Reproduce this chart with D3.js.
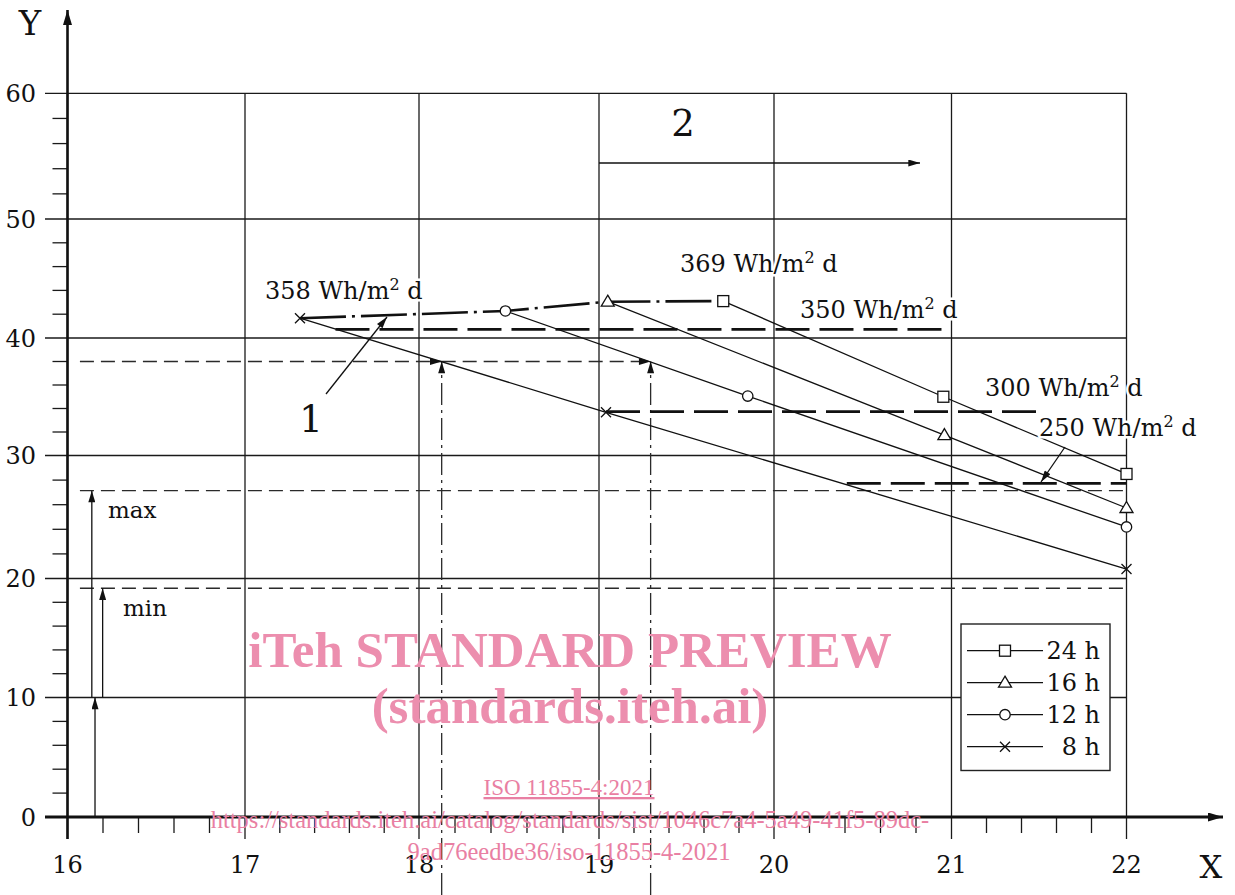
<!DOCTYPE html>
<html>
<head>
<meta charset="utf-8">
<script src="https://cdn.jsdelivr.net/npm/d3@7"></script>
<style>
  body { margin: 0; background: #fff; }
  text { font-family: "DejaVu Serif", serif; fill: #111; }
</style>
</head>
<body>
<div id="chart"></div>
<script>
// ---- data ----
var xTicks = [16, 17, 18, 19, 20, 21, 22];
var yTicks = [0, 10, 20, 30, 40, 50, 60];

var seriesNames = ["24 h", "16 h", "12 h", "8 h"];
var seriesShapes = ["square", "triangle", "circle", "cross"];
var s24x = [19.71, 20.954, 22.0], s24y = [43.10, 35.00, 28.50];
var s16x = [19.05, 20.96, 22.0],  s16y = [43.05, 31.74, 25.73];
var s12x = [18.48, 19.85, 22.0],  s12y = [42.27, 35.06, 24.19];
var s8x  = [17.316, 19.04, 22.0], s8y  = [41.66, 33.68, 20.77];

// constant energy levels (thick dashed)
var levelNames = ["350", "300", "250"];
var levelY  = [40.73, 33.73, 27.74];
var levelX0 = [17.52, 19.04, 20.41];
var levelX1 = [21.0, 21.5, 22.0];

// reference / limit lines
var refY = 38.0;
var refX = [18.126, 19.295];
var maxY = 27.14, minY = 19.18;
var limitX0 = 16.07;
var arrowX = [16.155, 16.137, 16.198]; // base arrow, max arrow, min arrow

// ---- canvas ----
var W = 1235, H = 895;
var svg = d3.select("#chart").append("svg").attr("width", W).attr("height", H);

// the original grid is slightly uneven, so the scales follow the drawn gridlines
var x = d3.scaleLinear().domain(xTicks).range([67.5, 245, 419, 599, 774, 951.5, 1126.5]);
var y = d3.scaleLinear().domain(yTicks).range([817, 697.5, 578.5, 455.5, 338, 219, 93.3]);

var defs = svg.append("defs");
function arrowMarker(id, len, wid) {
  defs.append("marker")
    .attr("id", id)
    .attr("viewBox", "0 0 10 6")
    .attr("refX", 10).attr("refY", 3)
    .attr("markerUnits", "userSpaceOnUse")
    .attr("markerWidth", len).attr("markerHeight", wid)
    .attr("orient", "auto")
    .append("path").attr("d", "M0,0L10,3L0,6Z").attr("fill", "#111");
}
arrowMarker("ah", 15, 7);
arrowMarker("axh", 19, 9);

// ---- grid ----
var grid = svg.append("g").attr("stroke", "#1a1a1a").attr("stroke-width", 1.3);
yTicks.forEach(function (v) {
  grid.append("line").attr("x1", 45).attr("x2", x(22)).attr("y1", y(v)).attr("y2", y(v));
});
xTicks.forEach(function (v) {
  grid.append("line").attr("x1", x(v)).attr("x2", x(v)).attr("y1", y(60)).attr("y2", 839);
});
// minor ticks
d3.range(16, 22, 0.2).forEach(function (v) {
  if (Math.abs(v - Math.round(v)) < 1e-6) return;
  grid.append("line").attr("x1", x(v)).attr("x2", x(v)).attr("y1", y(0)).attr("y2", 833);
});
d3.range(0, 60, 2).forEach(function (v) {
  if (v % 10 === 0) return;
  grid.append("line").attr("x1", 52.5).attr("x2", x(16)).attr("y1", y(v)).attr("y2", y(v));
});

// ---- axes ----
svg.append("line").attr("x1", x(16)).attr("x2", x(16)).attr("y1", 839).attr("y2", 10)
  .attr("stroke", "#111").attr("stroke-width", 2.6).attr("marker-end", "url(#axh)");
svg.append("line").attr("x1", 45).attr("x2", 1223).attr("y1", y(0)).attr("y2", y(0))
  .attr("stroke", "#111").attr("stroke-width", 2.8).attr("marker-end", "url(#axh)");

svg.append("g").selectAll("text").data(xTicks).enter().append("text")
  .attr("x", function (d) { return x(d); }).attr("y", 873)
  .attr("text-anchor", "middle").attr("font-size", 24).text(function (d) { return d; });
svg.append("g").selectAll("text").data(yTicks).enter().append("text")
  .attr("x", 36).attr("y", function (d) { return y(d); }).attr("dy", "0.36em")
  .attr("text-anchor", "end").attr("font-size", 24).text(function (d) { return d; });

svg.append("text").attr("x", 30).attr("y", 35).attr("text-anchor", "middle")
  .attr("font-size", 34).text("Y");
svg.append("text").attr("x", 1211).attr("y", 878).attr("text-anchor", "middle")
  .attr("font-size", 32).text("X");

// ---- thin dashed limit lines ----
var thin = svg.append("g").attr("stroke", "#2a2a2a").attr("stroke-width", 1.3).attr("fill", "none");
[maxY, minY].forEach(function (v) {
  thin.append("line").attr("x1", x(limitX0)).attr("x2", x(22)).attr("y1", y(v)).attr("y2", y(v))
    .attr("stroke-dasharray", "14,7");
});
thin.append("line").attr("x1", x(limitX0)).attr("x2", x(refX[0])).attr("y1", y(refY)).attr("y2", y(refY))
  .attr("stroke-dasharray", "14,7").attr("marker-end", "url(#ah)");
thin.append("line").attr("x1", x(refX[0])).attr("x2", x(refX[1])).attr("y1", y(refY)).attr("y2", y(refY))
  .attr("stroke-dasharray", "14,7").attr("marker-end", "url(#ah)");
refX.forEach(function (v) {
  thin.append("line").attr("x1", x(v)).attr("x2", x(v)).attr("y1", H).attr("y2", y(refY))
    .attr("stroke-dasharray", "22,5,3,5").attr("marker-end", "url(#ah)");
});

// arrows at the left (min / max)
var arr = svg.append("g").attr("stroke", "#111").attr("stroke-width", 1.3);
arr.append("line").attr("x1", x(arrowX[0])).attr("x2", x(arrowX[0])).attr("y1", y(0)).attr("y2", y(10))
  .attr("marker-end", "url(#ah)");
arr.append("line").attr("x1", x(arrowX[1])).attr("x2", x(arrowX[1])).attr("y1", y(10)).attr("y2", y(maxY))
  .attr("marker-end", "url(#ah)");
arr.append("line").attr("x1", x(arrowX[2])).attr("x2", x(arrowX[2])).attr("y1", y(10)).attr("y2", y(minY))
  .attr("marker-end", "url(#ah)");
svg.append("text").attr("x", 108).attr("y", 518).attr("font-size", 23).text("max");
svg.append("text").attr("x", 123).attr("y", 616).attr("font-size", 23).text("min");

// ---- series lines ----
var seriesX = [s24x, s16x, s12x, s8x];
var seriesY = [s24y, s16y, s12y, s8y];
var line = d3.line().x(function (d) { return x(d[0]); }).y(function (d) { return y(d[1]); });
var lines = svg.append("g").attr("fill", "none").attr("stroke", "#111").attr("stroke-width", 1.3);
seriesX.forEach(function (xs, i) {
  lines.append("path").attr("d", line(d3.zip(xs, seriesY[i])));
});

// thick dashed energy levels
var lev = svg.append("g").attr("stroke", "#111").attr("stroke-width", 2.8).attr("stroke-dasharray", "34,10");
levelY.forEach(function (v, i) {
  lev.append("line").attr("x1", x(levelX0[i])).attr("x2", x(levelX1[i])).attr("y1", y(v)).attr("y2", y(v));
});

// dash-dot line through the first point of each series
var optPts = [3, 2, 1, 0].map(function (i) { return [seriesX[i][0], seriesY[i][0]]; });
svg.append("path").attr("d", line(optPts)).attr("fill", "none").attr("stroke", "#111")
  .attr("stroke-width", 2.6).attr("stroke-dasharray", "46,6,3,6");

// ---- markers ----
function drawMarker(g, shape, cx, cy) {
  if (shape === "square") {
    g.append("rect").attr("x", cx - 5.5).attr("y", cy - 5.5).attr("width", 11).attr("height", 11);
  } else if (shape === "triangle") {
    g.append("path").attr("d", "M" + cx + "," + (cy - 6.5) + "L" + (cx + 6.5) + "," + (cy + 4.5) +
      "L" + (cx - 6.5) + "," + (cy + 4.5) + "Z");
  } else if (shape === "circle") {
    g.append("circle").attr("cx", cx).attr("cy", cy).attr("r", 5.2);
  } else {
    g.append("path").attr("d", "M" + (cx - 5) + "," + (cy - 5) + "L" + (cx + 5) + "," + (cy + 5) +
      "M" + (cx - 5) + "," + (cy + 5) + "L" + (cx + 5) + "," + (cy - 5));
  }
}
var mk = svg.append("g").attr("fill", "#fff").attr("stroke", "#111").attr("stroke-width", 1.3);
seriesX.forEach(function (xs, i) {
  xs.forEach(function (v, j) { drawMarker(mk, seriesShapes[i], x(v), y(seriesY[i][j])); });
});

// ---- labels ----
function whLabel(px, py, num) {
  var t = svg.append("text").attr("x", px).attr("y", py).attr("font-size", 24)
    .attr("stroke", "#fff").attr("stroke-width", 5).attr("paint-order", "stroke");
  t.append("tspan").text(num + " Wh/m");
  t.append("tspan").attr("dy", -9).attr("font-size", 16).text("2");
  t.append("tspan").attr("dy", 9).text(" d");
}
whLabel(265, 299, "358");
whLabel(680, 272, "369");
whLabel(800, 318, levelNames[0]);
whLabel(985, 396, levelNames[1]);
whLabel(1039, 436, levelNames[2]);

// leaders
svg.append("line").attr("x1", 326).attr("y1", 394).attr("x2", 387).attr("y2", 317)
  .attr("stroke", "#111").attr("stroke-width", 1.3).attr("marker-end", "url(#ah)");
svg.append("line").attr("x1", 1065).attr("y1", 447).attr("x2", 1041).attr("y2", 482)
  .attr("stroke", "#111").attr("stroke-width", 1.3).attr("marker-end", "url(#ah)");
svg.append("line").attr("x1", x(19)).attr("y1", 163).attr("x2", 920).attr("y2", 163)
  .attr("stroke", "#111").attr("stroke-width", 1.3).attr("marker-end", "url(#ah)");
svg.append("text").attr("x", 311).attr("y", 432).attr("text-anchor", "middle").attr("font-size", 37).text("1");
svg.append("text").attr("x", 683).attr("y", 136).attr("text-anchor", "middle").attr("font-size", 37).text("2");

// ---- legend ----
var lg = svg.append("g");
lg.append("rect").attr("x", 961).attr("y", 624).attr("width", 149).attr("height", 146.5)
  .attr("fill", "#fff").attr("stroke", "#222").attr("stroke-width", 1.4);
var lgm = lg.append("g").attr("fill", "#fff").attr("stroke", "#111").attr("stroke-width", 1.3);
seriesNames.forEach(function (name, i) {
  var ly = 650.7 + i * 32;
  lgm.append("line").attr("x1", 967).attr("x2", 1043).attr("y1", ly).attr("y2", ly);
  drawMarker(lgm, seriesShapes[i], 1005, ly);
  lg.append("text").attr("x", 1100).attr("y", ly + 8.6).attr("text-anchor", "end")
    .attr("font-size", 24).text(name);
});

// ---- watermark ----
var wm = svg.append("g").attr("text-anchor", "middle");
wm.append("text").attr("x", 570).attr("y", 667).attr("font-size", 51).attr("font-weight", "bold")
  .style("font-family", "'Liberation Serif', serif").style("fill", "#ec8eae")
  .text("iTeh STANDARD PREVIEW");
wm.append("text").attr("x", 570).attr("y", 723).attr("font-size", 51).attr("font-weight", "bold")
  .style("font-family", "'Liberation Serif', serif").style("fill", "#ec8eae")
  .text("(standards.iteh.ai)");
wm.append("text").attr("x", 569).attr("y", 795).attr("font-size", 23)
  .style("font-family", "'Liberation Serif', serif").style("fill", "#e97fa3")
  .style("text-decoration", "underline").text("ISO 11855-4:2021");
wm.append("text").attr("x", 570).attr("y", 828).attr("font-size", 24.5)
  .style("font-family", "'Liberation Serif', serif").style("fill", "#e97fa3")
  .text("https://standards.iteh.ai/catalog/standards/sist/1046c7a4-5a49-41f5-89dc-");
wm.append("text").attr("x", 569).attr("y", 860).attr("font-size", 24.5)
  .style("font-family", "'Liberation Serif', serif").style("fill", "#e97fa3")
  .text("9ad76eedbe36/iso-11855-4-2021");
</script>
</body>
</html>
